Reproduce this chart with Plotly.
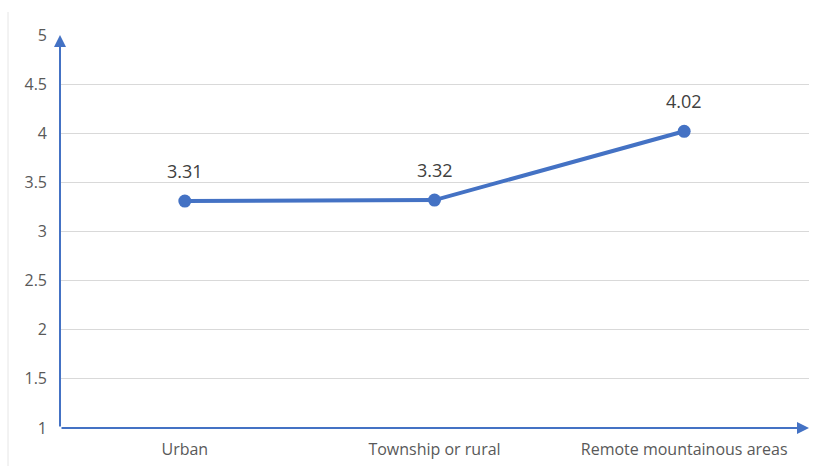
import plotly.graph_objects as go

categories = ["Urban", "Township or rural", "Remote mountainous areas"]
values = [3.31, 3.32, 4.02]
y_ticks = [1, 1.5, 2, 2.5, 3, 3.5, 4, 4.5, 5]
y_tick_text = ["1", "1.5", "2", "2.5", "3", "3.5", "4", "4.5", "5"]

blue = "#4472C4"
text_gray = "#595959"
font_family = "Open Sans, Noto Sans, DejaVu Sans, sans-serif"

fig = go.Figure()
fig.add_trace(go.Scatter(
    x=list(range(len(categories))),
    y=values,
    mode="lines+markers",
    line=dict(color=blue, width=4),
    marker=dict(color=blue, size=13),
    cliponaxis=False,
    showlegend=False,
))

# Value labels above each point
for i, v in enumerate(values):
    fig.add_annotation(x=i, y=v, xref="x", yref="y", text=f"{v:.2f}",
                       showarrow=False, yshift=30,
                       font=dict(size=18, color="#404040", family=font_family))

# Axis lines drawn as arrows
fig.add_annotation(x=2.5, y=1, ax=-0.5, ay=1, xref="x", yref="y", axref="x", ayref="y",
                   text="", showarrow=True, arrowhead=2, arrowsize=1.2, arrowwidth=2,
                   arrowcolor=blue, standoff=0, startstandoff=0)
fig.add_annotation(x=-0.5, y=5, ax=-0.5, ay=1, xref="x", yref="y", axref="x", ayref="y",
                   text="", showarrow=True, arrowhead=2, arrowsize=1.2, arrowwidth=2,
                   arrowcolor=blue, standoff=0, startstandoff=0)

# Faint frame line on the left edge
fig.add_shape(type="line", xref="paper", yref="paper",
              x0=-52 / 749, x1=-52 / 749, y0=-38 / 393, y1=1 + 23 / 393,
              line=dict(color="#e6e6e6", width=1))

fig.update_layout(
    width=818, height=466,
    margin=dict(l=60, r=9, t=35, b=38),
    paper_bgcolor="white", plot_bgcolor="white",
    font=dict(family=font_family, color=text_gray, size=16),
    xaxis=dict(
        range=[-0.5, 2.5], automargin=False,
        tickmode="array", tickvals=list(range(len(categories))), ticktext=categories,
        showgrid=False, zeroline=False, showline=False,
        ticks="", ticklabelstandoff=10,
        tickfont=dict(size=16, color=text_gray),
    ),
    yaxis=dict(
        range=[1, 5], automargin=False,
        tickmode="array", tickvals=y_ticks, ticktext=y_tick_text,
        showgrid=True, gridcolor="#d9d9d9", gridwidth=1,
        zeroline=False, showline=False, ticks="", ticklabelstandoff=12,
        tickfont=dict(size=16, color=text_gray),
    ),
)

fig.write_html("out.html")
